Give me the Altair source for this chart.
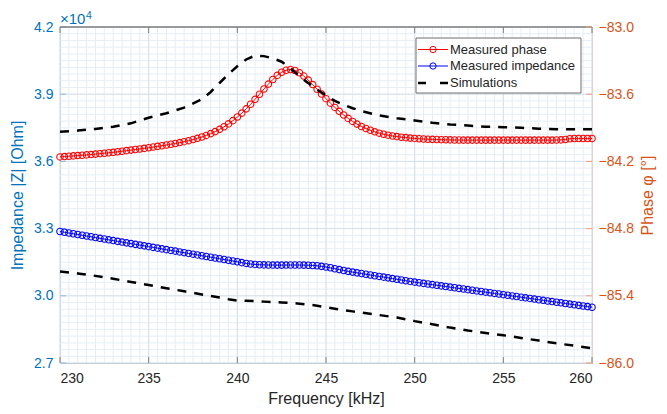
import altair as alt
import pandas as pd

# ---------------- data ----------------
freq = [230 + 0.25 * i for i in range(121)]  # measurement grid, kHz

imp_meas = [
    32870, 32836, 32803, 32769, 32735, 32701, 32668, 32634, 32600, 32566,
    32533, 32499, 32465, 32431, 32398, 32364, 32330, 32296, 32263, 32229,
    32195, 32161, 32128, 32094, 32060, 32026, 31993, 31959, 31925, 31891,
    31858, 31824, 31790, 31756, 31723, 31689, 31655, 31621, 31588, 31554,
    31520, 31480, 31445, 31420, 31400, 31388, 31380, 31375, 31372, 31370,
    31370, 31372, 31375, 31375, 31373, 31370, 31365, 31355, 31340, 31315,
    31285, 31250, 31210, 31170, 31130, 31092, 31058, 31025, 30993, 30961,
    30929, 30897, 30865, 30833, 30801, 30769, 30737, 30705, 30673, 30641,
    30610, 30582, 30554, 30526, 30498, 30470, 30442, 30414, 30386, 30358,
    30330, 30302, 30274, 30246, 30218, 30190, 30162, 30134, 30106, 30078,
    30050, 30022, 29994, 29966, 29938, 29910, 29882, 29854, 29826, 29798,
    29770, 29742, 29714, 29686, 29658, 29630, 29602, 29574, 29546, 29518,
    29490,
]

phase_meas = [
    -84.160, -84.157, -84.154, -84.151, -84.148, -84.145, -84.142, -84.139, -84.135, -84.131,
    -84.127, -84.123, -84.119, -84.114, -84.109, -84.104, -84.099, -84.094, -84.089, -84.084,
    -84.078, -84.072, -84.066, -84.060, -84.054, -84.047, -84.040, -84.032, -84.024, -84.015,
    -84.005, -83.994, -83.982, -83.968, -83.952, -83.934, -83.914, -83.891, -83.865, -83.836,
    -83.804, -83.769, -83.731, -83.690, -83.646, -83.600, -83.554, -83.510, -83.469, -83.432,
    -83.404, -83.386, -83.380, -83.388, -83.408, -83.438, -83.474, -83.514, -83.556, -83.598,
    -83.640, -83.680, -83.718, -83.753, -83.786, -83.816, -83.843, -83.867, -83.888, -83.906,
    -83.922, -83.936, -83.948, -83.958, -83.966, -83.973, -83.979, -83.984, -83.988, -83.992,
    -83.995, -83.998, -84.000, -84.002, -84.003, -84.005, -84.006, -84.007, -84.008, -84.009,
    -84.009, -84.010, -84.010, -84.010, -84.010, -84.010, -84.010, -84.010, -84.010, -84.010,
    -84.010, -84.010, -84.010, -84.010, -84.010, -84.010, -84.010, -84.010, -84.010, -84.010,
    -84.010, -84.010, -84.009, -84.008, -84.004, -83.998, -83.996, -83.996, -83.996, -83.996,
    -83.996,
]

sim_freq = [230, 231, 232, 233, 234, 235, 236, 237, 238, 238.5, 239, 239.5, 240,
            240.5, 241, 241.5, 242, 242.5, 243, 243.5, 244, 244.5, 245, 245.5,
            246, 246.5, 247, 248, 249, 250, 251, 252, 253, 254, 255, 256, 257,
            258, 259, 260]
imp_sim = [31090, 31000, 30890, 30760, 30620, 30480, 30340, 30200, 30060, 29990,
           29920, 29850, 29790, 29775, 29760, 29740, 29720, 29700, 29680, 29650,
           29610, 29555, 29490, 29425, 29360, 29305, 29250, 29140, 29030, 28870,
           28730, 28580, 28450, 28340, 28240, 28120, 28000, 27880, 27770, 27660]
phase_sim = [-83.935, -83.925, -83.910, -83.890, -83.860, -83.810, -83.770, -83.720,
             -83.645, -83.580, -83.500, -83.420, -83.350, -83.290, -83.255, -83.260,
             -83.280, -83.310, -83.370, -83.440, -83.500, -83.560, -83.610, -83.660,
             -83.695, -83.725, -83.750, -83.790, -83.815, -83.835, -83.855, -83.870,
             -83.880, -83.890, -83.895, -83.900, -83.908, -83.912, -83.913, -83.913]

x_ticks = [230, 235, 240, 245, 250, 255, 260]
yl_ticks = [27000, 30000, 33000, 36000, 39000, 42000]
yr_ticks = [-86.0, -85.4, -84.8, -84.2, -83.6, -83.0]
x_minor = [230 + 0.5 * i for i in range(61)]
yl_minor = [27000 + 300 * i for i in range(51)]

# ---------------- styling ----------------
W, H = 532, 336
FONT = "Liberation Sans"
BLUE_AX = "#0072BD"
ORANGE_AX = "#D95319"
DARK = "#262626"

meas = pd.DataFrame({"f": freq, "yl": imp_meas, "yr": phase_meas})
sim = pd.DataFrame({"f": sim_freq, "yl": imp_sim, "yr": phase_sim})

xs = alt.Scale(domain=[230, 260], nice=False, zero=False)
yl = alt.Scale(domain=[27000, 42000], nice=False, zero=False)
yr = alt.Scale(domain=[-86, -83], nice=False, zero=False)

AX_X = alt.Axis(
    values=x_ticks, format="d", title="Frequency [kHz]", grid=False,
    ticks=False, tickSize=0, domainColor="#7f7f7f", domainWidth=1,
    labelColor=DARK, titleColor=DARK, labelPadding=8, titlePadding=5,
    labelFontSize=14, titleFontSize=16, titleFontWeight="normal",
    labelFont=FONT, titleFont=FONT)
AX_YL = alt.Axis(
    values=yl_ticks, title="Impedance |Z| [Ohm]", grid=False,
    labelExpr="format(datum.value / 10000, '.1f')",
    ticks=False, tickSize=0, domainColor="#8fbce6", domainWidth=1,
    labelColor=BLUE_AX, titleColor=BLUE_AX, labelPadding=7, titlePadding=8,
    labelFontSize=14, titleFontSize=16, titleFontWeight="normal",
    labelFont=FONT, titleFont=FONT)
AX_YR = alt.Axis(
    orient="right", values=yr_ticks, format=".1f", title="Phase φ [°]",
    grid=False, ticks=False, tickSize=0, domainColor="#f0a07a",
    domainWidth=1, labelColor=ORANGE_AX, titleColor=ORANGE_AX,
    labelPadding=6, titlePadding=22, titleAngle=270,
    labelFontSize=14, titleFontSize=16, titleFontWeight="normal",
    labelFont=FONT, titleFont=FONT)

X = alt.X("f:Q", scale=xs, axis=AX_X)
YL = alt.Y("yl:Q", scale=yl, axis=AX_YL)
YR = alt.Y("yr:Q", scale=yr, axis=AX_YR)

# ---- grid ----
gx_minor = alt.Chart(pd.DataFrame({"f": x_minor})).mark_rule(
    color="#e6eef6", strokeWidth=1).encode(x=X)
gy_minor = alt.Chart(pd.DataFrame({"yl": yl_minor})).mark_rule(
    color="#e6eef6", strokeWidth=1).encode(y=YL)
gx_major = alt.Chart(pd.DataFrame({"f": x_ticks})).mark_rule(
    color="#d6e0ea", strokeWidth=1).encode(x=X)
gy_major = alt.Chart(pd.DataFrame({"yl": yl_ticks})).mark_rule(
    color="#d6e0ea", strokeWidth=1).encode(y=YL)

# ---- inward ticks ----
xt_bottom = alt.Chart(pd.DataFrame({"f": x_ticks})).mark_rule(
    color="#7f7f7f", strokeWidth=1).encode(
    x=X, y=alt.value(H - 6), y2=alt.value(H))
xt_top = alt.Chart(pd.DataFrame({"f": x_ticks})).mark_rule(
    color="#7f7f7f", strokeWidth=1).encode(
    x=X, y=alt.value(0), y2=alt.value(6))
ylt = alt.Chart(pd.DataFrame({"yl": yl_ticks})).mark_rule(
    color="#8fbce6", strokeWidth=1).encode(
    y=YL, x=alt.value(0), x2=alt.value(6))
top_border = alt.Chart(pd.DataFrame({"f": [230, 260]})).mark_rule(
    color="#7f7f7f", strokeWidth=1).encode(
    x=alt.value(0), x2=alt.value(W), y=alt.value(0))

# ---- left data ----
sim_imp = alt.Chart(sim).mark_line(
    color="black", strokeWidth=2.5, strokeDash=[9, 8]).encode(x=X, y=YL)
imp_line = alt.Chart(meas).mark_line(color="#0000ff", strokeWidth=1).encode(
    x=X, y=YL)
imp_pts = alt.Chart(meas).mark_point(
    shape="circle", filled=False, color="#0000ff", size=42, strokeWidth=1.1,
    opacity=1).encode(x=X, y=YL)

exp_a = alt.Chart(pd.DataFrame({"a": [0]})).mark_text(
    text="×10", align="left", baseline="alphabetic", fontSize=15, font=FONT,
    color=BLUE_AX).encode(x=alt.value(0), y=alt.value(-3))
exp_b = alt.Chart(pd.DataFrame({"a": [0]})).mark_text(
    text="4", align="left", baseline="alphabetic", fontSize=10.5, font=FONT,
    color=BLUE_AX).encode(x=alt.value(26), y=alt.value(-8))

left = alt.layer(gx_minor, gy_minor, gx_major, gy_major, xt_bottom, xt_top,
                 ylt, top_border, sim_imp, imp_line, imp_pts, exp_a, exp_b)

# ---- right data ----
yrt = alt.Chart(pd.DataFrame({"yr": yr_ticks})).mark_rule(
    color="#f0a07a", strokeWidth=1).encode(
    y=YR, x=alt.value(W - 6), x2=alt.value(W))
ph_line = alt.Chart(meas).mark_line(color="#ff0000", strokeWidth=1).encode(
    x=X, y=YR)
ph_pts = alt.Chart(meas).mark_point(
    shape="circle", filled=False, color="#ff0000", size=42, strokeWidth=1.1,
    opacity=1).encode(x=X, y=YR)
sim_ph = alt.Chart(sim).mark_line(
    color="black", strokeWidth=2.5, strokeDash=[9, 8]).encode(x=X, y=YR)

# ---- legend (drawn as a box in pixel space) ----
one = pd.DataFrame({"a": [0]})
LX0, LX1, LY0, LY1 = 356, 521, 11, 66
leg_box = alt.Chart(one).mark_rect(
    fill="white", stroke="#6e6e6e", strokeWidth=1).encode(
    x=alt.value(LX0), x2=alt.value(LX1), y=alt.value(LY0), y2=alt.value(LY1))
leg_rows = [("Measured phase", "#ff0000", 22.5, True),
            ("Measured impedance", "#0000ff", 39, True),
            ("Simulations", "black", 56, False)]
leg_layers = [leg_box]
for label, col, yy, marker in leg_rows:
    if marker:
        leg_layers.append(alt.Chart(one).mark_rule(color=col, strokeWidth=1).encode(
            x=alt.value(358), x2=alt.value(388), y=alt.value(yy)))
        leg_layers.append(alt.Chart(one).mark_point(
            shape="circle", filled=False, color=col, size=40, strokeWidth=1,
            opacity=1).encode(x=alt.value(373), y=alt.value(yy)))
    else:
        leg_layers.append(alt.Chart(one).mark_rule(color=col, strokeWidth=2.5).encode(
            x=alt.value(358), x2=alt.value(366), y=alt.value(yy)))
        leg_layers.append(alt.Chart(one).mark_rule(color=col, strokeWidth=2.5).encode(
            x=alt.value(380), x2=alt.value(388), y=alt.value(yy)))
    leg_layers.append(alt.Chart(one).mark_text(
        text=label, align="left", baseline="middle", fontSize=13, font=FONT,
        color=DARK).encode(x=alt.value(390), y=alt.value(yy)))

right = alt.layer(yrt, ph_line, ph_pts, sim_ph, *leg_layers)

chart = alt.layer(left, right).resolve_scale(y="independent").properties(
    width=W, height=H,
    autosize=alt.AutoSizeParams(type="none"),
    padding={"left": 60, "top": 27, "right": 75, "bottom": 51},
    background="white",
).configure_view(stroke=None)

chart.save("out.html", embed_options={"renderer": "svg", "actions": False})
